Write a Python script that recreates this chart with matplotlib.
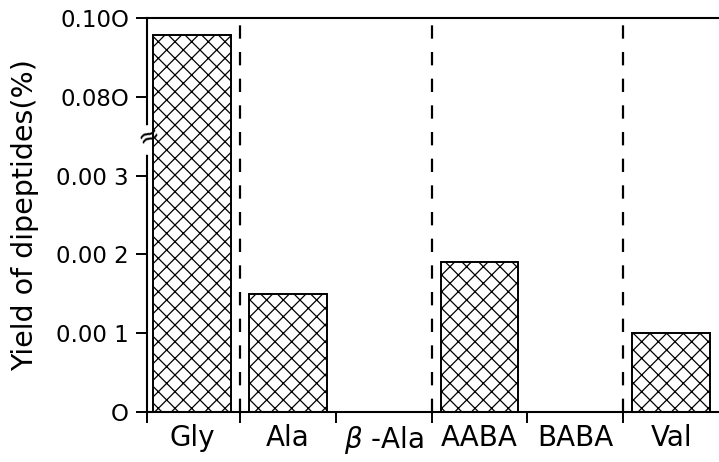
import numpy as np
import matplotlib
matplotlib.use('Agg')
import matplotlib.pyplot as plt
import matplotlib.transforms as mtransforms

# dipeptide yields (%) per amino acid
amino_acids = ['Gly', 'Ala', '$\\beta$ -Ala', 'AABA', 'BABA', 'Val']
yields = [0.0956, 0.0015, 0.0, 0.0019, 0.0, 0.0010]

ytick_vals = [0, 0.001, 0.002, 0.003, 0.080, 0.100]
ytick_labels = ['O', '0.00 1', '0.00 2', '0.00 3', '0.08O', '0.10O']

# broken y axis: 0-0.0035 stretched, 0.08-0.10 compressed
brk_v = [0.0, 0.0035, 0.080, 0.100, 1.0]
brk_y = [0.0, 3.5, 4.0, 5.0, 50.0]

def fwd(v):
    return np.interp(v, brk_v, brk_y)

def inv(y):
    return np.interp(y, brk_y, brk_v)

plt.rcParams['font.family'] = ['DejaVu Sans']
plt.rcParams['hatch.linewidth'] = 0.9

fig = plt.figure(figsize=(7.19, 4.62), dpi=100)
ax = fig.add_axes([147/719, 1 - 412/462, 1 - 147/719, (412 - 18)/462])
ax.set_yscale('function', functions=(fwd, inv))

x = np.arange(len(amino_acids))
ax.bar(x, yields, width=0.81, facecolor='white', edgecolor='black',
       linewidth=1.4, hatch='xx', zorder=2)

ax.set_xlim(-0.47, 5.5)
ax.set_ylim(0, 0.100)

# dashed separators between groups
for xs in [0.5, 2.5, 4.5]:
    ax.axvline(xs, color='black', linewidth=1.6, linestyle=(0, (6, 6)), zorder=1)

ax.set_yticks(ytick_vals)
ax.set_yticklabels(ytick_labels, fontsize=16.5)
ax.tick_params(axis='y', direction='out', length=8, width=1.4, pad=5)

ax.set_xticks(x)
ax.set_xticklabels(amino_acids, fontsize=20)
ax.set_xticks([-0.47, 0.5, 1.5, 2.5, 3.5, 4.5], minor=True)
ax.tick_params(axis='x', which='major', length=0, pad=9)
ax.tick_params(axis='x', which='minor', direction='out', length=8, width=1.4)

ax.set_ylabel('Yield of dipeptides(%)', fontsize=20.5, labelpad=12)

for side in ['left', 'bottom', 'top']:
    ax.spines[side].set_linewidth(1.5)
ax.spines['right'].set_visible(False)

# break mark on the y axis
trans = mtransforms.blended_transform_factory(ax.transAxes, ax.transData)
ax.plot([0, 0], [0.0033, 0.0190], color='white', linewidth=4,
        transform=trans, clip_on=False, zorder=5)
ax.text(0.003, 0.0036, '\u2248', transform=trans, ha='center', va='center',
        fontsize=19, rotation=25, zorder=6)

fig.savefig('out.png', dpi=100)
